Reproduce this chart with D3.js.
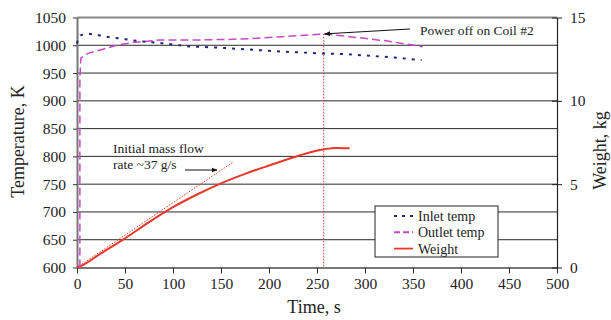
<!DOCTYPE html>
<html>
<head>
<meta charset="utf-8">
<script src="https://cdn.jsdelivr.net/npm/d3@7"></script>
<style>
  body { margin: 0; background: #fff; }
  svg, svg text { font-family: "Liberation Serif", "Times New Roman", serif !important; }
</style>
</head>
<body>
<div id="chart"></div>
<script>
// Data
const inletTime = [0, 1, 3.5, 11, 20, 30, 50, 62, 89, 117, 145, 174, 214, 253, 280, 319, 359];
const inletTemp = [1003, 1012, 1018, 1021, 1019, 1015.5, 1011, 1008, 1003.5, 998, 996, 993, 988.5, 985.5, 984, 979.5, 973.5];

const outletTime = [3, 3, 4, 11.5, 27, 42.5, 58, 86, 121, 156, 187, 214, 253, 257, 284, 322, 360];
const outletTemp = [600, 940, 977, 985.5, 993, 1000.5, 1005, 1009.5, 1009.5, 1010.5, 1012.5, 1015.5, 1020, 1020.5, 1015.5, 1008, 997.5];

const weightTime = [0, 5, 25, 50, 75, 100, 125, 150, 175, 200, 225, 245, 258, 270, 284];
const weightKg = [0, 0.12, 0.85, 1.75, 2.72, 3.62, 4.38, 5.05, 5.62, 6.12, 6.6, 6.95, 7.1, 7.17, 7.15];

// initial mass flow tangent (~37 g/s)
const slopeTime = [0, 162];
const slopeKg = [0, 6.3];

const powerOffTime = 257;
const powerOffTemp = 1020.5;

const xTicks = d3.range(0, 501, 50);
const tempTicks = d3.range(600, 1051, 50);
const weightTicks = [0, 5, 10, 15];

const seriesNames = ["Inlet temp", "Outlet temp", "Weight"];

// Chart setup
const width = 611, height = 320;
const margin = { top: 17.5, left: 77, bottom: 52.5, right: 54 };
const innerW = width - margin.left - margin.right;
const innerH = height - margin.top - margin.bottom;

const svg = d3.select("#chart").append("svg")
  .attr("width", width)
  .attr("height", height);

const g = svg.append("g").attr("transform", `translate(${margin.left},${margin.top})`);

const x = d3.scaleLinear().domain([0, 500]).range([0, innerW]);
const yT = d3.scaleLinear().domain([600, 1050]).range([innerH, 0]);
const yW = d3.scaleLinear().domain([0, 15]).range([innerH, 0]);

const colInlet = "#23237e";
const colOutlet = "#c548c5";
const colWeight = "#e8382a";
const serif = "'Liberation Serif', 'Times New Roman', serif";

// grid lines
g.append("g").selectAll("line")
  .data(tempTicks.filter(d => d > 600))
  .enter().append("line")
  .attr("x1", 0).attr("x2", innerW)
  .attr("y1", d => yT(d)).attr("y2", d => yT(d))
  .attr("stroke", d => d === 1050 ? "#888" : "#2a2a2a")
  .attr("stroke-width", d => d === 1050 ? 2 : 1);

// Axes
const fontSize = "15.5px";
const fmt = d3.format("d");

const xAxis = g.append("g")
  .attr("transform", `translate(0,${innerH})`)
  .call(d3.axisBottom(x).tickValues(xTicks).tickFormat(fmt).tickSize(6).tickSizeOuter(0).tickPadding(4));
xAxis.select(".domain").attr("stroke", "#777").attr("stroke-width", 2);
xAxis.selectAll(".tick line").attr("stroke", "#333");

const yAxis = g.append("g")
  .call(d3.axisLeft(yT).tickValues(tempTicks).tickFormat(fmt).tickSize(4).tickSizeOuter(0).tickPadding(7));
yAxis.select(".domain").attr("stroke", "#777").attr("stroke-width", 2);
yAxis.selectAll(".tick line").attr("stroke", "#333");

const yAxisR = g.append("g")
  .attr("transform", `translate(${innerW},0)`)
  .call(d3.axisRight(yW).tickValues(weightTicks).tickFormat(fmt).tickSize(5).tickSizeOuter(0).tickPadding(8));
yAxisR.select(".domain").attr("stroke", "#222").attr("stroke-width", 1.2);
yAxisR.selectAll(".tick line").attr("x1", -5).attr("x2", 5).attr("stroke", "#222");

[xAxis, yAxis, yAxisR].forEach(a => {
  a.attr("font-family", null).style("font-family", serif);
  a.selectAll("text").style("font-family", serif).attr("font-size", fontSize).attr("fill", "#222");
});

// Axis labels
svg.append("text")
  .attr("x", margin.left + innerW * 0.5 - 3)
  .attr("y", 313)
  .attr("text-anchor", "middle")
  .attr("font-size", "18px")
  .attr("fill", "#222")
  .text("Time, s");

svg.append("text")
  .attr("transform", `translate(24,${margin.top + 124}) rotate(-90)`)
  .attr("text-anchor", "middle")
  .attr("font-size", "18px")
  .attr("fill", "#222")
  .text("Temperature, K");

svg.append("text")
  .attr("transform", `translate(606,${margin.top + 133}) rotate(-90)`)
  .attr("text-anchor", "middle")
  .attr("font-size", "18px")
  .attr("fill", "#222")
  .text("Weight, kg");

// Lines
const tLine = d3.line().x(d => x(d[0])).y(d => yT(d[1]));
const wLine = d3.line().x(d => x(d[0])).y(d => yW(d[1])).curve(d3.curveMonotoneX);

const lines = g.append("g").attr("class", "lines").style("fill", "none");

// power-off marker (vertical dotted)
lines.append("line")
  .attr("x1", x(powerOffTime)).attr("x2", x(powerOffTime))
  .attr("y1", yT(powerOffTemp)).attr("y2", innerH)
  .attr("stroke", colWeight).attr("stroke-width", 1)
  .attr("stroke-dasharray", "1.5,1.5");

// tangent line
lines.append("path")
  .attr("d", d3.line().x(d => x(d[0])).y(d => yW(d[1]))(d3.zip(slopeTime, slopeKg)))
  .attr("stroke", colWeight).attr("stroke-width", 1)
  .attr("stroke-dasharray", "1.5,1.5");

lines.append("path")
  .attr("d", wLine(d3.zip(weightTime, weightKg)))
  .attr("stroke", colWeight).attr("stroke-width", 2);

lines.append("path")
  .attr("d", tLine(d3.zip(outletTime, outletTemp)))
  .attr("stroke", colOutlet).attr("stroke-width", 1.5)
  .attr("stroke-dasharray", "8,4");

lines.append("path")
  .attr("d", tLine(d3.zip(inletTime, inletTemp)))
  .attr("stroke", colInlet).attr("stroke-width", 2)
  .attr("stroke-dasharray", "3,6");

// Annotations
const defs = svg.append("defs");
defs.append("marker")
  .attr("id", "arrow")
  .attr("viewBox", "0 0 10 10")
  .attr("refX", 9).attr("refY", 5)
  .attr("markerWidth", 6).attr("markerHeight", 6)
  .attr("orient", "auto")
  .append("path").attr("d", "M0,1L10,5L0,9z").attr("fill", "#111");

// Power off
g.append("line")
  .attr("x1", 333).attr("y1", 11.5)
  .attr("x2", x(powerOffTime) + 1).attr("y2", yT(powerOffTemp))
  .attr("stroke", "#111").attr("stroke-width", 1)
  .attr("marker-end", "url(#arrow)");
g.append("text")
  .attr("x", 343).attr("y", 17)
  .attr("font-size", "13.5px").attr("fill", "#222")
  .text("Power off on Coil #2");

// Initial mass flow
g.append("text")
  .attr("x", 36).attr("y", 135)
  .attr("font-size", "13.5px").attr("fill", "#222")
  .text("Initial mass flow");
g.append("text")
  .attr("x", 36).attr("y", 151)
  .attr("font-size", "13.5px").attr("fill", "#222")
  .text("rate ~37 g/s");
g.append("line")
  .attr("x1", 108).attr("y1", 152.5)
  .attr("x2", 140).attr("y2", 152.5)
  .attr("stroke", "#111").attr("stroke-width", 1)
  .attr("marker-end", "url(#arrow)");

// Legend
const legend = svg.append("g").attr("transform", "translate(375,206)");
legend.append("rect")
  .attr("width", 123).attr("height", 51)
  .attr("fill", "#fff").attr("stroke", "#222").attr("stroke-width", 1);

const legendStyles = [
  { color: colInlet, dash: "3,5", width: 2 },
  { color: colOutlet, dash: "6,3", width: 2 },
  { color: colWeight, dash: null, width: 1.8 }
];

const item = legend.selectAll(".item")
  .data(seriesNames)
  .enter().append("g")
  .attr("class", "item")
  .attr("transform", (d, i) => `translate(0,${10 + i * 16.3})`);

item.append("line")
  .attr("x1", 19).attr("x2", 38)
  .attr("y1", 0).attr("y2", 0)
  .attr("stroke", (d, i) => legendStyles[i].color)
  .attr("stroke-width", (d, i) => legendStyles[i].width)
  .attr("stroke-dasharray", (d, i) => legendStyles[i].dash);

item.append("text")
  .attr("x", 43).attr("y", 0)
  .attr("dy", "0.35em")
  .attr("font-size", "14px")
  .attr("fill", "#222")
  .text(d => d);
</script>
</body>
</html>
